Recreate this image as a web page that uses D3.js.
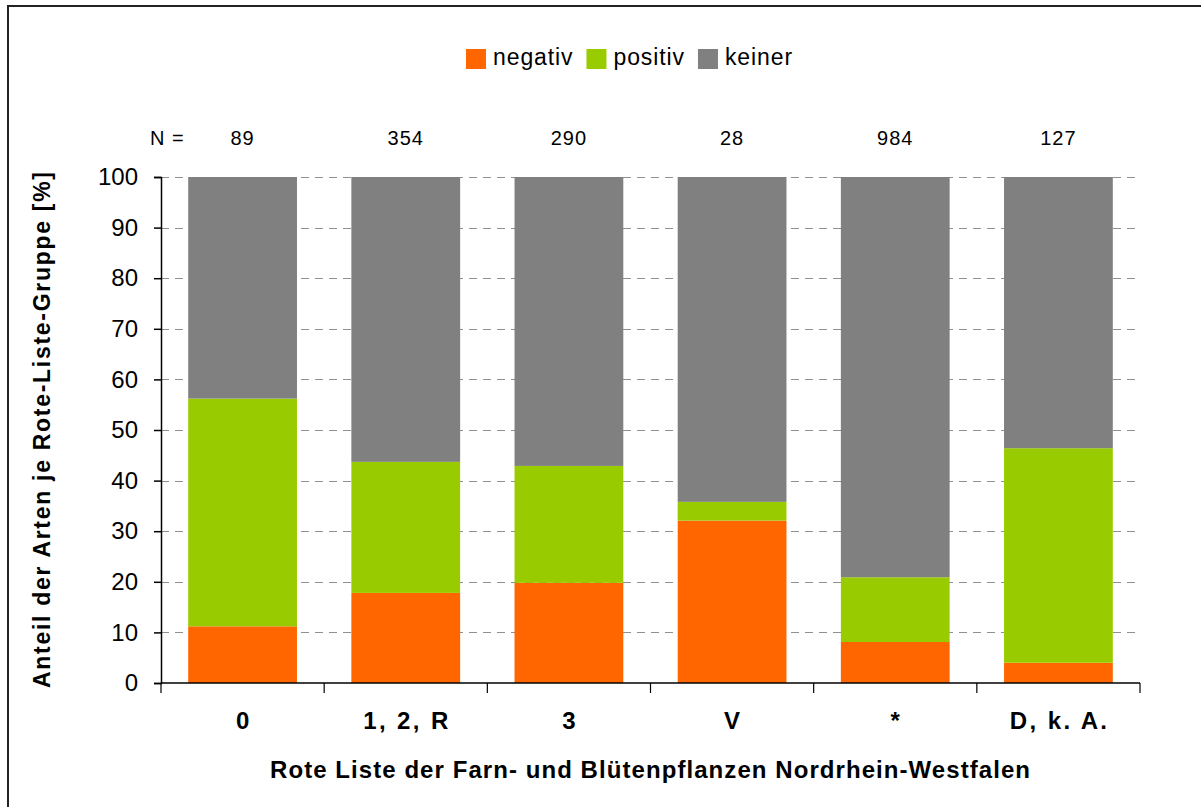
<!DOCTYPE html>
<html lang="de">
<head>
<meta charset="utf-8">
<title>Rote Liste – Anteil der Arten</title>
<script src="https://cdn.jsdelivr.net/npm/d3@7"></script>
<style>
  html, body { margin: 0; padding: 0; background: #fff; }
  svg { display: block; font-family: Arial, "Liberation Sans", sans-serif; }
</style>
</head>
<body>
<svg id="chart" width="1201" height="807"></svg>
<script>
// Rote-Liste-Gruppen und Anzahl der Arten je Gruppe
const categories = ["0", "1, 2, R", "3", "V", "*", "D, k. A."];
const nValues = [89, 354, 290, 28, 984, 127];

// Anteile in Prozent je Gruppe
const negativ = [11.2, 17.8, 19.8, 32.1, 8.1, 4.0];
const positiv = [45.0, 25.9, 23.1, 3.7, 12.8, 42.4];
const keiner  = [43.8, 56.3, 57.1, 64.2, 79.1, 53.6];

const seriesKeys = ["negativ", "positiv", "keiner"];
const seriesColors = ["#FF6600", "#99CC00", "#808080"];
const yTicks = [0, 10, 20, 30, 40, 50, 60, 70, 80, 90, 100];

const rows = categories.map((c, i) => ({
  cat: c, negativ: negativ[i], positiv: positiv[i], keiner: keiner[i]
}));

const svg = d3.select("#chart");

// Rahmen (nur oben und links sichtbar)
svg.append("rect")
  .attr("x", 8).attr("y", 6).attr("width", 1300).attr("height", 900)
  .attr("fill", "none").attr("stroke", "#222").attr("stroke-width", 2);

const plot = { left: 161, right: 1140, top: 177, bottom: 683 };

const x = d3.scaleBand()
  .domain(categories)
  .range([plot.left, plot.right])
  .paddingInner(1 / 3)
  .paddingOuter(1 / 6);

const y = d3.scaleLinear().domain([0, 100]).range([plot.bottom, plot.top]);

const color = d3.scaleOrdinal().domain(seriesKeys).range(seriesColors);

// Gestrichelte Hilfslinien
svg.append("g")
  .selectAll("line")
  .data(yTicks.filter(v => v > 0))
  .join("line")
  .attr("x1", plot.left).attr("x2", plot.right)
  .attr("y1", d => Math.round(y(d)) + 0.5).attr("y2", d => Math.round(y(d)) + 0.5)
  .attr("stroke", "#909090").attr("stroke-width", 1.2)
  .attr("stroke-dasharray", "8,6");

// Gestapelte Säulen
const stacked = d3.stack().keys(seriesKeys)(rows);
svg.append("g")
  .selectAll("g")
  .data(stacked)
  .join("g")
  .attr("fill", d => color(d.key))
  .selectAll("rect")
  .data(d => d)
  .join("rect")
  .attr("x", d => x(d.data.cat))
  .attr("width", x.bandwidth())
  .attr("y", d => y(d[1]))
  .attr("height", d => y(d[0]) - y(d[1]));

// Y-Achse
const yAxis = svg.append("g").attr("transform", `translate(${plot.left},0)`)
  .call(d3.axisLeft(y).tickValues(yTicks).tickSize(7).tickPadding(16).tickFormat(d3.format("d")));
yAxis.select(".domain").attr("stroke", "#000").attr("stroke-width", 1.5);
yAxis.selectAll(".tick line").attr("stroke", "#000").attr("stroke-width", 1.5);
yAxis.selectAll(".tick text")
  .attr("font-size", 24).attr("fill", "#000")
  .attr("font-family", "Arial, 'Liberation Sans', sans-serif");

// X-Achse mit Teilstrichen an den Kategoriegrenzen
const xAxisG = svg.append("g");
xAxisG.append("line")
  .attr("x1", plot.left).attr("x2", plot.right)
  .attr("y1", plot.bottom).attr("y2", plot.bottom)
  .attr("stroke", "#000").attr("stroke-width", 1.5);
const step = x.step();
const boundaries = categories.map(c => x(c) - x.paddingOuter() * step)
  .concat([plot.right]);
xAxisG.selectAll("line.tick")
  .data(boundaries)
  .join("line")
  .attr("class", "tick")
  .attr("x1", d => d).attr("x2", d => d)
  .attr("y1", plot.bottom).attr("y2", plot.bottom + 10)
  .attr("stroke", "#000").attr("stroke-width", 1.2);

// Kategoriebeschriftungen
svg.append("g")
  .selectAll("text")
  .data(categories)
  .join("text")
  .attr("x", d => x(d) + x.bandwidth() / 2 + 1.2)
  .attr("y", 729)
  .attr("text-anchor", "middle")
  .attr("font-size", 24).attr("font-weight", "bold")
  .attr("letter-spacing", 2.4)
  .text(d => d);

// Achsentitel
svg.append("text")
  .attr("x", 650).attr("y", 778)
  .attr("text-anchor", "middle")
  .attr("font-size", 24).attr("font-weight", "bold")
  .attr("textLength", 760).attr("lengthAdjust", "spacing")
  .text("Rote Liste der Farn- und Blütenpflanzen Nordrhein-Westfalen");

svg.append("text")
  .attr("transform", "translate(50,430) rotate(-90)")
  .attr("text-anchor", "middle")
  .attr("font-size", 23).attr("font-weight", "bold")
  .attr("textLength", 516).attr("lengthAdjust", "spacing")
  .text("Anteil der Arten je Rote-Liste-Gruppe [%]");

// Stichprobengrößen
svg.append("text")
  .attr("x", 150).attr("y", 145)
  .attr("font-size", 20)
  .attr("letter-spacing", 1)
  .text("N =");
svg.append("g")
  .selectAll("text")
  .data(categories)
  .join("text")
  .attr("x", d => x(d) + x.bandwidth() / 2)
  .attr("y", 145)
  .attr("text-anchor", "middle")
  .attr("font-size", 20)
  .attr("letter-spacing", 1)
  .text((d, i) => nValues[i]);

// Legende
const legend = svg.append("g");
let lx = 466;
seriesKeys.forEach((k, i) => {
  legend.append("rect")
    .attr("x", lx).attr("y", 49).attr("width", 20).attr("height", 20)
    .attr("fill", color(k));
  const t = legend.append("text")
    .attr("x", lx + 27).attr("y", 65)
    .attr("font-size", 23).attr("letter-spacing", 0.9)
    .text(k);
  lx += 27 + t.node().getComputedTextLength() + 13;
});
</script>
</body>
</html>
